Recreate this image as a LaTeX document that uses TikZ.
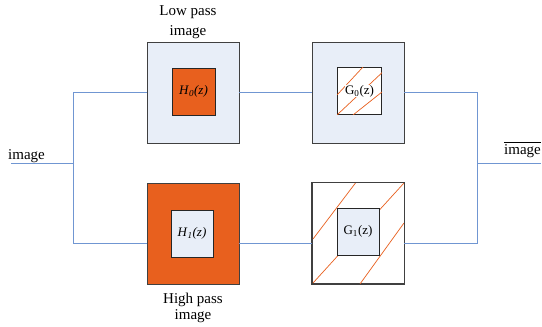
\documentclass[tikz,border=0pt]{standalone}
\usepackage{fontspec}
\setmainfont{Liberation Serif}
\definecolor{lb}{HTML}{E8EEF8}
\definecolor{org}{HTML}{E8601E}
\definecolor{wireblue}{HTML}{7096D2}
\begin{document}
\begin{tikzpicture}[x=1pt,y=-1pt,
 outer/.style={draw=black!75,line width=0.8pt,minimum width=92pt,minimum height=101pt,inner sep=0pt},
 inner/.style={draw=black!85,line width=0.8pt,minimum width=43pt,minimum height=47pt,inner sep=0pt,font=\fontsize{13}{15}\selectfont},
 wire/.style={draw=wireblue,line width=0.9pt},
 hatch/.style={draw=org,line width=0.7pt},
 lbl/.style={font=\fontsize{15}{17}\selectfont,align=center,inner sep=0pt}]
\useasboundingbox (0,0) rectangle (542,327);

% boxes
\node[outer,fill=lb] (lp) at (193,92.5) {};
\node[inner,fill=org] (h0) at (193.5,91.5) {\textit{H}\textsubscript{\textit{0}}\textit{(z)}};

\node[outer,fill=lb] (g0o) at (358,92.5) {};
\node[inner,fill=white,minimum width=44pt] (g0) at (359.5,91) {};
\begin{scope}
  \clip (g0.south west) rectangle (g0.north east);
  \draw[hatch] (337,95) -- (363,67);
  \draw[hatch] (337,115) -- (387,68);
  \draw[hatch] (353,115) -- (387,88);
\end{scope}
\node[fill=white,inner sep=0.5pt,font=\fontsize{13}{15}\selectfont] (g0t) at (g0.center) {G\textsubscript{0}(z)};

\node[outer,fill=org] (hp) at (193,233.5) {};
\node[inner,fill=lb,minimum width=42pt] (h1) at (192,233.5) {\textit{H}\textsubscript{\textit{1}}\textit{(z)}};

\node[outer,fill=white] (g1o) at (358,233) {};
\begin{scope}
  \clip (g1o.south west) rectangle (g1o.north east);
  \draw[hatch] (313,239) -- (357,181);
  \draw[hatch] (313,283) -- (404,183);
  \draw[hatch] (360,284) -- (404,223);
\end{scope}
\draw[draw=black!75,line width=0.8pt] (g1o.south west) rectangle (g1o.north east);
\node[inner,fill=lb,minimum width=42pt] (g1) at (358,231.5) {G\textsubscript{1}(z)};

% labels
\node[lbl,anchor=north] (lowt) at (188,5) {Low pass\\[3pt]image};
\node[lbl,anchor=north] (hight) at (193,293) {High pass\\[-1pt]image};
\node[lbl,anchor=base west] (inl) at (8,159) {image};
\node[lbl,anchor=base west] (outl) at (504,154) {$\overline{\mbox{image}}$};

% wires
\coordinate (jl) at (73,163);
\coordinate (jr) at (477,163);
\coordinate (inS) at (11,163);
\coordinate (outE) at (541,163);
\coordinate (bl) at (147,243);
\coordinate (br) at (477,243);
\draw[wire] (inS) -- (jl);
\draw[wire] (jl) |- (lp.west);
\draw[wire] (jl) |- (bl);
\draw[wire] (lp.east) -- (g0o.west);
\draw[wire] (bl -| hp.east) -- (bl -| g1o.west);
\draw[wire] (g0o.east) -| (jr);
\draw[wire] (bl -| g1o.east) -- (br) -- (jr);
\draw[wire] (jr) -- (outE);
\end{tikzpicture}
\end{document}
